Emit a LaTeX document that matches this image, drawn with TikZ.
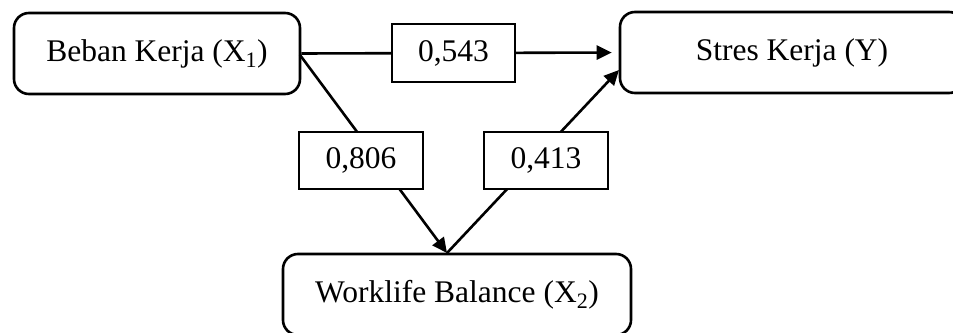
\documentclass[tikz,border=0pt]{standalone}
\usepackage{fontspec}
\setmainfont{Liberation Serif}
\usetikzlibrary{arrows.meta}
\begin{document}
\begin{tikzpicture}[x=1pt,y=-1pt,
  every node/.style={font=\fontsize{31.5}{36}\selectfont},
  bigbox/.style={draw, line width=2.6pt, rounded corners=15pt, minimum height=81pt, inner sep=0pt},
  lblbox/.style={draw, fill=white, line width=1.2pt, inner sep=0pt, minimum width=124pt, minimum height=57pt},
  conn/.style={line width=2.6pt, -{Triangle[length=15pt,width=14pt]}}]
\useasboundingbox (0,0) rectangle (953,332);
\clip (0,0) rectangle (953,332);
\node[bigbox, minimum width=286pt] (b1) at (157,53.5) {Beban Kerja (X\textsubscript{1})};
\node[bigbox, minimum width=344pt] (b2) at (792,52.5) {Stres Kerja (Y)};
\node[bigbox, minimum width=348pt] (b3) at (457,294.5) {Worklife Balance (X\textsubscript{2})};
\coordinate (m) at (447,253);
\coordinate (s) at (619,70);
\coordinate (e1) at (300,55);
\draw[conn, shorten >=7pt] (b1.east) -- (b2.west);
\draw[conn] (e1) -- (m);
\draw[conn] (m) -- (s);
\node[lblbox, minimum width=123pt, minimum height=58pt] (l1) at (453.5,53) {0,543};
\node[lblbox] (l2) at (361,160.5) {0,806};
\node[lblbox] (l3) at (546,160.5) {0,413};
\end{tikzpicture}
\end{document}
